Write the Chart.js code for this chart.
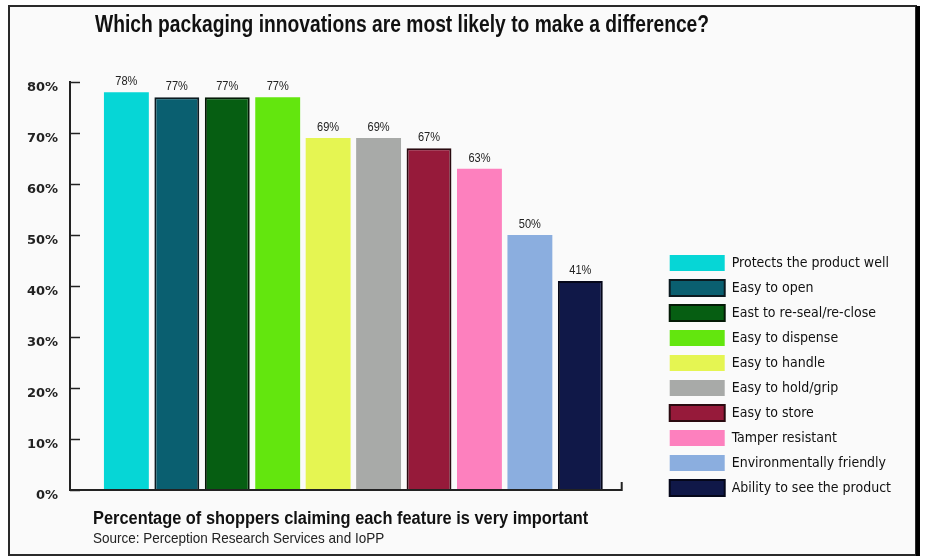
<!DOCTYPE html>
<html><head><meta charset="utf-8">
<script src="https://cdn.jsdelivr.net/npm/chart.js@4.4.1/dist/chart.umd.min.js"></script>
<style>html,body{margin:0;padding:0;background:#fff}#wrap{width:925px;height:559px;position:relative}</style>
</head><body><div id="wrap"><canvas id="c" width="925" height="559"></canvas></div>
<script>
const titleText = 'Which packaging innovations are most likely to make a difference?';
const footnoteText = 'Percentage of shoppers claiming each feature is very important';
const sourceText = 'Source: Perception Research Services and IoPP';
const categoryLabels = ['Shoppers'];
const features = ['Protects the product well','Easy to open','East to re-seal/re-close','Easy to dispense','Easy to handle','Easy to hold/grip','Easy to store','Tamper resistant','Environmentally friendly','Ability to see the product'];
const values = [78,77,77,77,69,69,67,63,50,41];
const yMin = 0, yMax = 80, yStep = 10;
const fillColors = ['#06d6d6','#0a5f70','#065e12','#63e60e','#e5f552','#a8aaa8','#961a3a','#fd80be','#8baedf','#101848'];
const edgeColors = ['#06d6d6','#0b1a20','#041a06','#63e60e','#e5f552','#a0a2a0','#2a0a10','#fd80be','#7ea3d6','#05071a'];
const edgeWidths = [0,2,2,0,0,0,2,0,0,2];

const NARROW = '"Liberation Sans Narrow","DejaVu Sans Condensed","Roboto Condensed","Liberation Sans",sans-serif';

const framePlugin = {
  id:'frame',
  beforeDraw(chart){
    const c = chart.ctx, w = chart.width, h = chart.height;
    c.save();
    c.fillStyle = '#ffffff'; c.fillRect(0,0,w,h);
    c.fillStyle = '#fafafa'; c.fillRect(9,6,w-18,h-10);
    c.strokeStyle = '#2a2a2a'; c.lineWidth = 2; c.strokeRect(9,6,w-18,h-10);
    c.fillStyle = '#000'; c.fillRect(w-9,6,4,h-9);
    c.restore();
  },
  afterDraw(chart){
    const c = chart.ctx;
    c.save();
    c.fillStyle = '#111';
    c.textBaseline = 'alphabetic';
    c.textAlign = 'left';
    function stretched(text, x, y, font, sx){
      c.save(); c.translate(x,y); c.scale(sx,1); c.font = font; c.fillText(text,0,0); c.restore();
    }
    stretched(titleText, 95, 32, 'bold 23px "Liberation Sans",Arial,sans-serif', 0.837);
    stretched(footnoteText, 93, 524, 'bold 18px "Liberation Sans",Arial,sans-serif', 0.91);
    c.fillStyle = '#222';
    stretched(sourceText, 93, 543, '15px "Liberation Sans",Arial,sans-serif', 0.9);
    // inward y ticks and x axis line
    const ys = chart.scales.y, ca = chart.chartArea;
    c.strokeStyle = '#222'; c.lineWidth = 1.5;
    ys.ticks.forEach(t => {
      const py = Math.round(ys.getPixelForValue(t.value)) + 0.5;
      c.beginPath(); c.moveTo(ca.left, py); c.lineTo(ca.left + 10, py); c.stroke();
    });
    const xEnd = ca.right - 15;
    c.lineWidth = 2;
    c.beginPath(); c.moveTo(ca.left - 1, ca.bottom); c.lineTo(xEnd, ca.bottom); c.lineTo(xEnd, ca.bottom - 8); c.stroke();
    c.restore();
  }
};

const valueLabels = {
  id:'valueLabels',
  afterDatasetsDraw(chart){
    const c = chart.ctx;
    c.save();
    c.fillStyle = '#222'; c.textAlign = 'center'; c.textBaseline = 'bottom';
    chart.data.datasets.forEach((ds, i) => {
      const el = chart.getDatasetMeta(i).data[0];
      c.save(); c.translate(el.x, el.y - 4); c.scale(0.85,1);
      c.font = '13px "Liberation Sans",Arial,sans-serif';
      c.fillText(ds.data[0] + '%', 0, 0);
      c.restore();
    });
    c.restore();
  }
};

new Chart(document.getElementById('c'), {
  type:'bar',
  data:{
    labels: categoryLabels,
    datasets: features.map((f,i)=>({
      label: f,
      data: [values[i]],
      backgroundColor: fillColors[i],
      borderColor: edgeColors[i],
      borderWidth: edgeWidths[i],
      categoryPercentage: 0.89,
      barPercentage: 0.89
    }))
  },
  options:{
    responsive:false, animation:false, devicePixelRatio:1,
    layout:{padding:{left:10, right:24, top:82, bottom:54}},
    plugins:{
      title:{display:false},
      tooltip:{enabled:false},
      legend:{
        position:'right', align:'end', maxWidth:400,
        labels:{boxWidth:55, boxHeight:16, padding:9, color:'#111',
          font:{family:NARROW, size:14}}
      }
    },
    scales:{
      x:{
        grid:{display:false, drawTicks:false},
        border:{display:false},
        ticks:{display:false},
        afterFit(s){ s.height = 15; }
      },
      y:{
        min:yMin, max:yMax,
        grid:{display:false, drawTicks:false},
        border:{display:true, color:'#222', width:2},
        ticks:{stepSize:yStep, padding:12, labelOffset:6, color:'#222',
          font:{family:'"DejaVu Sans",sans-serif', weight:'bold', size:13},
          callback:v=>v+'%'},
        afterFit(s){ s.width = 60; }
      },
      y2:{
        position:'right', display:true,
        grid:{display:false, drawTicks:false},
        border:{display:false},
        ticks:{display:false},
        afterFit(s){ s.width = 24; }
      }
    }
  },
  plugins:[framePlugin, valueLabels]
});
</script></body></html>
